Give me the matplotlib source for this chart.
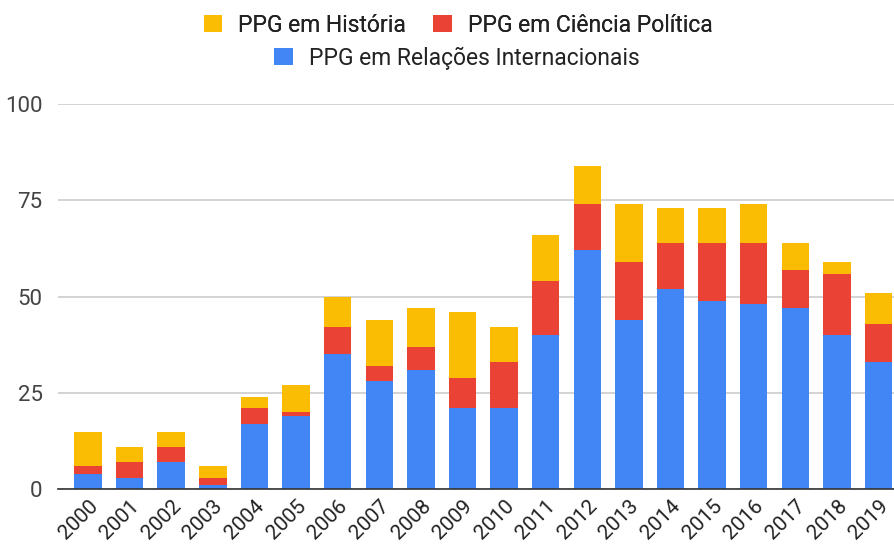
import matplotlib.pyplot as plt
import numpy as np

plt.rcParams['font.family'] = ['Roboto', 'DejaVu Sans']

years = [str(y) for y in range(2000, 2020)]
rel_int = [4, 3, 7, 1, 17, 19, 35, 28, 31, 21, 21, 40, 62, 44, 52, 49, 48, 47, 40, 33]
cien_pol = [2, 4, 4, 2, 4, 1, 7, 4, 6, 8, 12, 14, 12, 15, 12, 15, 16, 10, 16, 10]
historia = [9, 4, 4, 3, 3, 7, 8, 12, 10, 17, 9, 12, 10, 15, 9, 9, 10, 7, 3, 8]

c_blue = '#4285F4'
c_red = '#EA4335'
c_yellow = '#FBBC04'
txt = '#222222'

fig = plt.figure(figsize=(8.94, 5.5), dpi=100)
ax = fig.add_axes([58 / 894, 60.7 / 550, 836 / 894, 385.3 / 550])

x = np.arange(len(years))
rel = np.array(rel_int)
pol = np.array(cien_pol)
his = np.array(historia)

b1 = ax.bar(x, rel, width=0.66, color=c_blue, zorder=3)
b2 = ax.bar(x, pol, width=0.66, bottom=rel, color=c_red, zorder=3)
b3 = ax.bar(x, his, width=0.66, bottom=rel + pol, color=c_yellow, zorder=3)

ax.set_xlim(-0.72, 19.37)
ax.set_ylim(0, 100)
ax.set_yticks([0, 25, 50, 75, 100])
ax.yaxis.grid(True, color='#cccccc', linewidth=1.2, zorder=0)
ax.set_axisbelow(True)
for s in ['top', 'right', 'left']:
    ax.spines[s].set_visible(False)
ax.spines['bottom'].set_color('#333333')
ax.spines['bottom'].set_linewidth(1.2)
ax.spines['bottom'].set_zorder(4)
ax.tick_params(axis='y', length=0, labelsize=16, colors='#444444', pad=11)
ax.set_xticks(x)
ax.set_xticklabels(years, rotation=45, ha='right', rotation_mode='anchor')
ax.tick_params(axis='x', length=0, labelsize=15, colors=txt, pad=5)

leg1 = fig.legend([b3, b2], ['PPG em História', 'PPG em Ciência Política'],
                  loc='center', bbox_to_anchor=(458 / 894, 1 - 25 / 550), ncol=2,
                  frameon=False, fontsize=16.5, handlelength=0.8, handleheight=0.8,
                  handletextpad=0.7, columnspacing=1.2, labelcolor=txt)
leg2 = fig.legend([b1], ['PPG em Relações Internacionais'],
                  loc='center', bbox_to_anchor=(457 / 894, 1 - 58 / 550),
                  frameon=False, fontsize=16.5, handlelength=0.8, handleheight=0.8,
                  handletextpad=0.7, labelcolor=txt)
fig.add_artist(leg1)

fig.savefig('out.png', dpi=100)
